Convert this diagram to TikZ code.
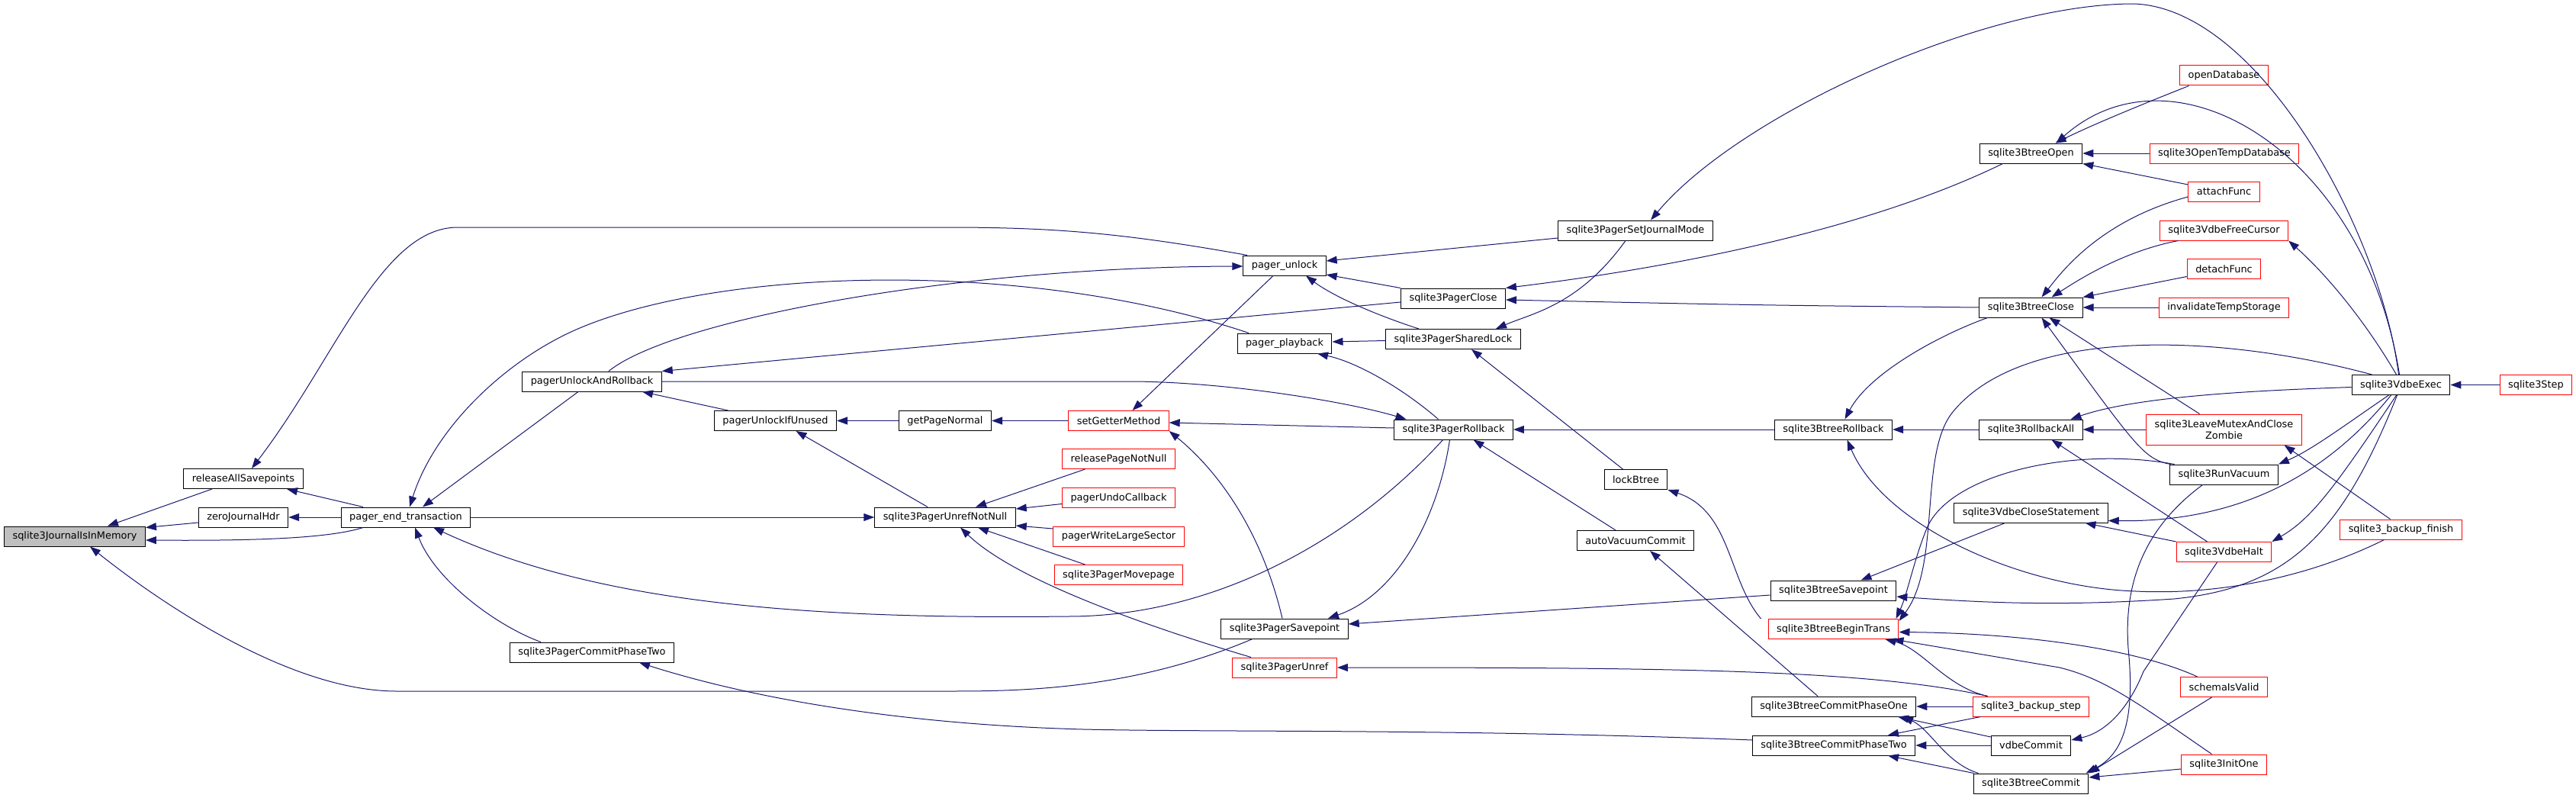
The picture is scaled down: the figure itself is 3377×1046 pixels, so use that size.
\documentclass[tikz,border=0pt]{standalone}
\usepackage{fontspec}
\setmainfont{DejaVu Sans}
\usepackage{tikz}
\usetikzlibrary{arrows.meta}
\definecolor{edgeblue}{HTML}{191970}
\definecolor{rootgray}{HTML}{BFBFBF}
\tikzset{
  fn/.style={draw=black, line width=1pt, fill=white, minimum height=26pt,
    inner xsep=11pt, inner ysep=2pt, font=\fontsize{12.9pt}{15pt}\selectfont},
  fnred/.style={fn, draw=red},
  fnroot/.style={fn, fill=rootgray},
  call/.style={edgeblue, line width=1pt, -{Triangle[length=14pt,width=10pt]}}
}
\begin{document}
\begin{tikzpicture}[x=1pt,y=-1pt]
\useasboundingbox (0,0) rectangle (3377,1046);

\node[fnroot] (root) at (98,703) {sqlite3JournalIsInMemory};
\node[fn] (relall) at (319,627.5) {releaseAllSavepoints};
\node[fn] (zerohdr) at (319,678) {zeroJournalHdr};
\node[fn] (endtrans) at (532,678) {pager\_end\_transaction};
\node[fn] (unlockroll) at (776,500) {pagerUnlockAndRollback};
\node[fn] (pcommit2) at (776,855) {sqlite3PagerCommitPhaseTwo};
\node[fn] (unlockunused) at (1016.5,551.5) {pagerUnlockIfUnused};
\node[fn] (getnormal) at (1239,551.5) {getPageNormal};
\node[fn] (unrefnn) at (1239,678) {sqlite3PagerUnrefNotNull};
\node[fnred] (getter) at (1466.5,551.5) {setGetterMethod};
\node[fnred] (relpnn) at (1466.5,601.5) {releasePageNotNull};
\node[fnred] (undocb) at (1466.5,652.5) {pagerUndoCallback};
\node[fnred] (writels) at (1466.5,703) {pagerWriteLargeSector};
\node[fnred] (movepage) at (1466.5,753.5) {sqlite3PagerMovepage};
\node[fn] (pgunlock) at (1684,348) {pager\_unlock};
\node[fn] (playback) at (1684,450) {pager\_playback};
\node[fn] (psavept) at (1684,824) {sqlite3PagerSavepoint};
\node[fnred] (unref) at (1684,875) {sqlite3PagerUnref};
\node[fn] (pclose) at (1905,391) {sqlite3PagerClose};
\node[fn] (sharedlock) at (1905,444.5) {sqlite3PagerSharedLock};
\node[fn] (prollback) at (1905.5,563) {sqlite3PagerRollback};
\node[fn] (setjmode) at (2144,302) {sqlite3PagerSetJournalMode};
\node[fn] (lockbt) at (2144.5,628.5) {lockBtree};
\node[fn] (autovac) at (2144,708.5) {autoVacuumCommit};
\node[fn] (brollback) at (2403.5,563) {sqlite3BtreeRollback};
\node[fn] (bsavept) at (2403.5,774) {sqlite3BtreeSavepoint};
\node[fnred] (begintrans) at (2403.5,824.5) {sqlite3BtreeBeginTrans};
\node[fn] (bcommit1) at (2404,926) {sqlite3BtreeCommitPhaseOne};
\node[fn] (bcommit2) at (2404,977) {sqlite3BtreeCommitPhaseTwo};
\node[fn] (bopen) at (2662.5,201) {sqlite3BtreeOpen};
\node[fn] (bclose) at (2662.5,403) {sqlite3BtreeClose};
\node[fn] (rollall) at (2662.5,563) {sqlite3RollbackAll};
\node[fn] (closestmt) at (2662.5,672) {sqlite3VdbeCloseStatement};
\node[fnred] (bkstep) at (2662.5,926) {sqlite3\_backup\_step};
\node[fn] (vcommit) at (2662.5,977) {vdbeCommit};
\node[fn] (bcommit) at (2662.5,1027) {sqlite3BtreeCommit};
\node[fnred] (opendb) at (2915.5,99) {openDatabase};
\node[fnred] (opentemp) at (2916,201) {sqlite3OpenTempDatabase};
\node[fnred] (attach) at (2915.5,251) {attachFunc};
\node[fnred] (freecur) at (2915.5,302) {sqlite3VdbeFreeCursor};
\node[fnred] (detach) at (2915.5,352.5) {detachFunc};
\node[fnred] (invtemp) at (2915.5,403) {invalidateTempStorage};
\node[fnred, minimum height=40pt, align=center] (zombie) at (2915.5,563) {sqlite3LeaveMutexAndClose\\Zombie};
\node[fn] (runvac) at (2915.5,622) {sqlite3RunVacuum};
\node[fnred] (halt) at (2915.5,723.5) {sqlite3VdbeHalt};
\node[fnred] (schemaok) at (2915.5,900.5) {schemaIsValid};
\node[fnred] (initone) at (2915.5,1002) {sqlite3InitOne};
\node[fn] (vexec) at (3147.5,504.5) {sqlite3VdbeExec};
\node[fnred] (bkfinish) at (3147.5,694) {sqlite3\_backup\_finish};
\node[fnred] (step) at (3324.5,504.5) {sqlite3Step};

% left part
\draw[call] ([xshift=-41pt]relall.south) -- ([xshift=43pt]root.north);
\draw[call] ([yshift=-7pt]zerohdr.west) -- ([yshift=-2pt]root.north east);
\draw[call] ([xshift=-56pt]endtrans.south) .. controls (430,706) and (330,709) .. ([yshift=-5pt]root.east);
\draw[call] ([xshift=-42pt]psavept.south) .. controls (1480,906) and (1330,906) .. (1240,906) -- (520,906) .. controls (380,906) and (210,790) .. ([xshift=20pt]root.south);
\draw[call] ([xshift=-56pt]endtrans.north) -- ([xshift=57pt]relall.south);
\draw[call] ([xshift=-49pt]pgunlock.north) .. controls (1470,305) and (1380,298) .. (1240,298) -- (600,298) .. controls (500,298) and (440,470) .. ([xshift=11pt]relall.north);
\draw[call] (endtrans.west) -- (zerohdr.east);
\draw[call] ([xshift=-18pt]unlockroll.south) -- ([xshift=22pt]endtrans.north);
\draw[call] ([xshift=-47pt]playback.north) .. controls (1350,340) and (950,350) .. (760,430) .. controls (665,470) and (570,560) .. ([xshift=5pt]endtrans.north);
\draw[call] ([xshift=-67pt]pcommit2.north) .. controls (650,820) and (570,760) .. ([xshift=12pt]endtrans.south);
\draw[call] ([xshift=-14pt]prollback.south) .. controls (1780,700) and (1600,808) .. (1400,808) .. controls (1050,812) and (780,790) .. ([xshift=36pt]endtrans.south);
\draw[call] (endtrans.east) -- (unrefnn.west);
\draw[call] ([xshift=22pt]unlockroll.north) .. controls (880,420) and (1250,350) .. ([yshift=-1pt]pgunlock.west);
\draw[call] ([yshift=-5pt]pclose.west) -- (unlockroll.north east);
\draw[call] (unlockroll.east) -- (1480,500) .. controls (1600,500) and (1760,525) .. ([xshift=-62pt]prollback.north);
\draw[call] ([xshift=-62pt]unlockunused.north) -- ([xshift=66pt]unlockroll.south);
\draw[call] (getnormal.west) -- (unlockunused.east);
\draw[call] ([xshift=-23pt]unrefnn.north) -- ([xshift=27pt]unlockunused.south);
\draw[call] (getter.west) -- (getnormal.east);
\draw[call] ([xshift=-15pt]pgunlock.south) -- ([xshift=18pt]getter.north);
\draw[call] ([yshift=2pt]prollback.west) -- ([yshift=-2.5pt]getter.east);
\draw[call] ([xshift=-3pt]psavept.north) .. controls (1655,700) and (1600,620) .. (getter.south east);
\draw[call] ([xshift=-44pt]relpnn.south) -- ([xshift=40pt]unrefnn.north);
\draw[call] ([yshift=-8pt]undocb.west) -- ([yshift=11pt]unrefnn.east);
\draw[call] ([yshift=10pt]writels.west) -- ([yshift=-11pt]unrefnn.east);
\draw[call] ([xshift=-44pt]movepage.north) -- ([xshift=43pt]unrefnn.south);
\draw[call] ([xshift=-44pt]unref.north) .. controls (1500,820) and (1330,760) .. ([xshift=20pt]unrefnn.south);

% middle part
\draw[call] ([yshift=-10pt]setjmode.west) -- ([yshift=6pt]pgunlock.east);
\draw[call] (pclose.north west) -- ([yshift=-12pt]pgunlock.east);
\draw[call] ([xshift=-45pt]sharedlock.north) .. controls (1810,415) and (1750,390) .. ([xshift=28pt]pgunlock.south);
\draw[call] ([yshift=-2pt]sharedlock.west) -- ([yshift=2pt]playback.east);
\draw[call] ([xshift=-20pt]prollback.north) .. controls (1840,510) and (1780,475) .. ([xshift=43pt]playback.south);
\draw[call] ([xshift=-37pt]bopen.south) .. controls (2450,300) and (2200,350) .. (pclose.north east);
\draw[call] (bclose.west) .. controls (2300,400) .. ([yshift=-2pt]pclose.east);
\draw[call] ([xshift=-13pt]setjmode.south) .. controls (2070,400) and (2010,410) .. ([xshift=56pt]sharedlock.north);
\draw[call] ([xshift=-17pt]lockbt.north) -- ([xshift=24pt]sharedlock.south);
\draw[call] (brollback.west) -- (prollback.east);
\draw[call] ([xshift=-26pt]autovac.north) -- ([xshift=26pt]prollback.south);
\draw[call] ([xshift=-5pt]prollback.south) .. controls (1885,680) and (1830,780) .. ([xshift=57pt]psavept.north);
\draw[call] ([yshift=-6pt]bsavept.west) -- ([yshift=6pt]psavept.east);
\draw[call] ([xshift=-57pt]bkstep.north) .. controls (2450,878) and (2200,875) .. (unref.east);
\draw[call] ([yshift=7pt]bcommit2.west) .. controls (1900,955) and (1600,960) .. (1420,956) .. controls (1200,950) and (1000,920) .. ([xshift=62pt]pcommit2.south);
\draw[call] ([xshift=-95pt]begintrans.north) .. controls (2265,760) and (2270,670) .. (lockbt.south east);
\draw[call] ([xshift=-21pt]bcommit1.north) -- ([xshift=19pt]autovac.south);

% right part
\draw[call] ([xshift=-3pt]vexec.north) .. controls (3120,300) and (2960,10) .. (2797,5) .. controls (2600,5) and (2280,150) .. ([xshift=20pt]setjmode.north);
\draw[call] ([xshift=-57pt]bclose.south) .. controls (2540,440) and (2450,490) .. ([xshift=15pt]brollback.north);
\draw[call] (rollall.west) -- (brollback.east);
\draw[call] ([xshift=-22pt]bkfinish.south) .. controls (3020,760) and (2900,780) .. (2800,775) .. controls (2650,770) and (2470,690) .. ([xshift=18pt]brollback.south);
\draw[call] ([xshift=-34pt]closestmt.south) -- ([xshift=36pt]bsavept.north);
\draw[call] ([xshift=-5pt]vexec.south) .. controls (3070,700) and (3000,770) .. (2850,785) .. controls (2700,795) and (2600,790) .. ([yshift=-8pt]bsavept.east);
\draw[call] ([xshift=-65pt]runvac.north) .. controls (2720,585) and (2560,620) .. (2527,690) .. controls (2510,730) and (2500,780) .. ([xshift=-4pt]begintrans.north east);
\draw[call] ([xshift=-38pt]vexec.north) .. controls (2900,435) and (2650,430) .. (2560,540) .. controls (2515,595) and (2545,740) .. ([yshift=-3pt]begintrans.north east);
\draw[call] ([xshift=-35pt]schemaok.north) .. controls (2800,850) and (2650,830) .. ([yshift=-4pt]begintrans.east);
\draw[call] ([xshift=-57pt]bkstep.north) .. controls (2550,900) and (2520,850) .. ([xshift=68pt]begintrans.south);
\draw[call] ([xshift=-16pt]initone.north) .. controls (2800,920) and (2760,890) .. (2700,875) -- ([xshift=78pt]begintrans.south);
\draw[call] (bkstep.west) -- (bcommit1.east);
\draw[call] ([yshift=11pt]vcommit.west) -- ([xshift=84pt]bcommit1.south);
\draw[call] ([xshift=-69pt]bcommit.north) .. controls (2550,1000) and (2530,955) .. ([xshift=90pt]bcommit1.south);
\draw[call] ([xshift=-66pt]bkstep.south) -- ([xshift=71pt]bcommit2.north);
\draw[call] (vcommit.west) -- (bcommit2.east);
\draw[call] ([xshift=-75pt]bcommit.north) -- ([xshift=71pt]bcommit2.south);
\draw[call] ([xshift=-9pt]halt.south) -- (2810,880) .. controls (2790,930) and (2760,960) .. ([yshift=7pt]vcommit.east);
\draw[call] ([xshift=-28pt]runvac.south) .. controls (2800,700) and (2785,780) .. (2790,850) .. controls (2800,950) and (2780,990) .. ([xshift=72pt]bcommit.north);
\draw[call] ([xshift=-16pt]schemaok.south) -- (bcommit.north east);
\draw[call] ([yshift=-6pt]initone.west) -- ([yshift=8pt]bcommit.east);
\draw[call] ([xshift=-13pt]vexec.south) .. controls (3060,610) and (2950,685) .. ([yshift=3pt]closestmt.south east);
\draw[call] ([yshift=-3pt]vexec.west) .. controls (2950,512) and (2800,520) .. ([xshift=52pt]rollall.north);
\draw[call] ([xshift=-2pt]vexec.north) .. controls (3100,200) and (2850,50) .. ([xshift=33pt]bopen.north);
\draw[call] ([xshift=-6pt]vexec.north) .. controls (3100,420) and (3050,360) .. (freecur.south east);
\draw[call] ([xshift=-14pt]bkfinish.north) -- ([xshift=79pt]zombie.south);
\draw[call] ([xshift=-6pt]vexec.south) .. controls (3060,640) and (3030,680) .. (halt.north east);
\draw[call] ([xshift=-16pt]vexec.south) .. controls (3070,560) and (3030,590) .. (runvac.north east);
\draw[call] ([xshift=-32pt]zombie.north) -- ([xshift=24pt]bclose.south);
\draw[call] ([yshift=-7pt]attach.west) .. controls (2750,290) and (2700,360) .. ([xshift=14pt]bclose.north);
\draw[call] ([xshift=-60pt]freecur.south) .. controls (2780,330) and (2720,370) .. ([xshift=27pt]bclose.north);
\draw[call] ([yshift=-10pt]detach.west) -- (bclose.north east);
\draw[call] (invtemp.west) -- (bclose.east);
\draw[call] ([xshift=-70pt]runvac.north) .. controls (2810,602) and (2800,585) .. ([xshift=14pt]bclose.south);
\draw[call] ([xshift=-46pt]opendb.south) .. controls (2800,140) and (2740,165) .. ([xshift=32pt]bopen.north);
\draw[call] (opentemp.west) -- (bopen.east);
\draw[call] ([yshift=9pt]attach.west) -- (bopen.south east);
\draw[call] (zombie.west) -- (rollall.east);
\draw[call] ([xshift=-22pt]halt.north) -- ([xshift=27pt]rollall.south);
\draw[call] (halt.north west) -- ([xshift=71pt]closestmt.south);
\draw[call] (step.west) -- (vexec.east);

\end{tikzpicture}
\end{document}
